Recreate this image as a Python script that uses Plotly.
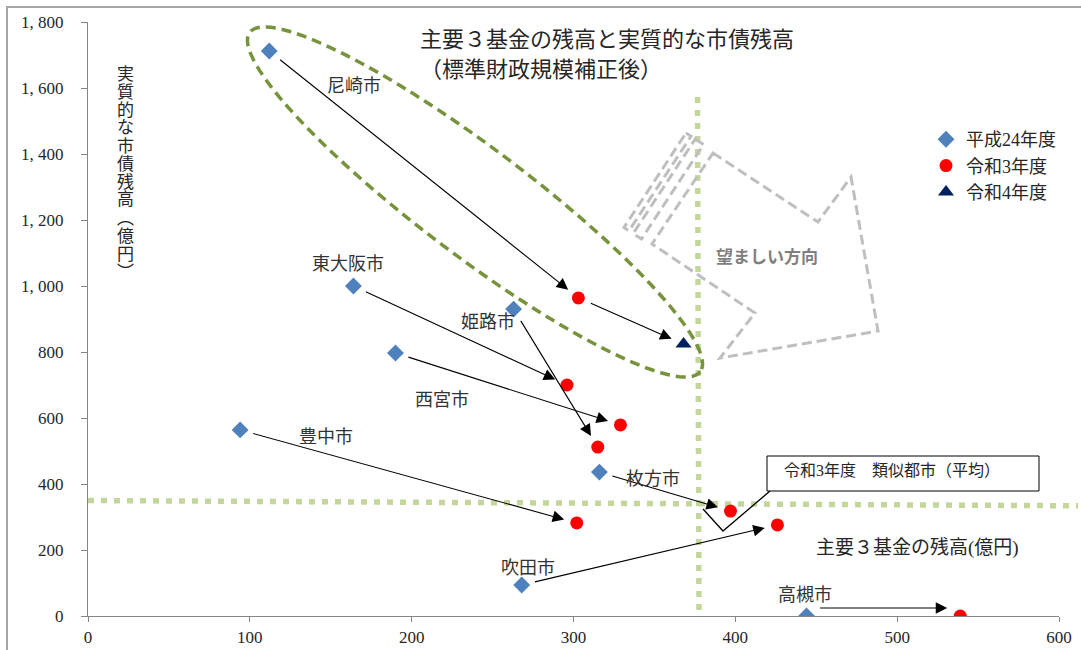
import math
import plotly.graph_objects as go

# ---------------- data ----------------
cities = ["尼崎市", "東大阪市", "西宮市", "姫路市", "豊中市", "枚方市", "吹田市", "高槻市"]
h24_x = [112, 164, 190, 263, 94, 316, 268, 444]
h24_y = [1712, 1000, 797, 930, 564, 436, 94, 0]
r3_x = [303, 296, 329, 315, 302, 397, 426, 539]
r3_y = [964, 700, 579, 512, 282, 318, 276, 0]
r4_city = ["尼崎市"]
r4_x = [368]
r4_y = [824]
avg_x = 378   # 令和3年度 類似都市（平均）
avg_y = 350
x_ticks = [0, 100, 200, 300, 400, 500, 600]
y_ticks = [0, 200, 400, 600, 800, 1000, 1200, 1400, 1600, 1800]
y_ticktext = ["0", "200", "400", "600", "800", "1, 000", "1, 200", "1, 400", "1, 600", "1, 800"]
legend_names = ["平成24年度", "令和3年度", "令和4年度"]

# ---------------- geometry helpers (decorations only) ----------------
W, H = 1081, 650
L, R, T, B = 88, 1059, 22, 616


def px(x):
    return (x - L) / (R - L)


def py(y):
    return (B - y) / (B - T)


def path_from_px(points, close=True):
    s = "M " + " L ".join(f"{px(a):.5f},{py(b):.5f}" for a, b in points)
    return s + (" Z" if close else "")


FONT = "Liberation Serif, Noto Sans CJK JP"
SANS = "Noto Sans CJK JP"

fig = go.Figure()
fig.add_trace(go.Scatter(x=h24_x, y=h24_y, mode="markers", name=legend_names[0],
                         legendgroup="a", text=cities,
                         marker=dict(symbol="diamond", size=13, color="#4f81bd")))
fig.add_trace(go.Scatter(x=r3_x, y=r3_y, mode="markers", name=legend_names[1],
                         legendgroup="b", text=cities,
                         marker=dict(symbol="circle", size=13, color="#ff0000")))
fig.add_trace(go.Scatter(x=r4_x, y=r4_y, mode="markers", name=legend_names[2],
                         legendgroup="c", text=r4_city,
                         marker=dict(symbol="triangle-up", size=14, color="#002060")))

shapes = []
# outer frame
shapes.append(dict(type="path", xref="paper", yref="paper",
                   path=path_from_px([(7, 700), (7, 7), (1100, 7)], close=False),
                   line=dict(color="#a6a6a6", width=2)))
# average reference lines
GREEN = "#c3d69b"
shapes.append(dict(type="line", xref="paper", yref="paper",
                   x0=px(88), y0=py(500.5), x1=px(1078), y1=py(505.8),
                   line=dict(color=GREEN, width=5.5, dash="6px,7px"), layer="below"))
shapes.append(dict(type="line", xref="paper", yref="paper",
                   x0=px(697.5), y0=py(97), x1=px(699), y1=py(616),
                   line=dict(color=GREEN, width=5.5, dash="6px,7px"), layer="below"))

# big gray "desirable direction" arrow
GRAY = "#bfbfbf"
ux, uy = 0.836, 0.549
vx, vy = -0.549, 0.836
ox, oy = 686, 133
TW = 113


def uv(u, v):
    return (ox + u * ux + v * vx, oy + u * uy + v * vy)


for u0, u1 in [(0, 6), (11, 21)]:
    shapes.append(dict(type="path", xref="paper", yref="paper",
                       path=path_from_px([uv(u0, 0), uv(u1, 0), uv(u1, TW), uv(u0, TW)]),
                       line=dict(color=GRAY, width=3, dash="10px,5px")))
body = [(713, 153), (818, 222), (851, 177), (878, 331), (720, 358), (755, 313), (652, 244)]
shapes.append(dict(type="path", xref="paper", yref="paper",
                   path=path_from_px(body),
                   line=dict(color=GRAY, width=3, dash="10px,5px")))

# green dashed ellipse around 尼崎市
cx, cy, a, b = 475, 202, 282, 54
th = math.atan2(339, 450)
ell = []
for i in range(121):
    t = 2 * math.pi * i / 120
    ex = a * math.cos(t)
    ey = b * math.sin(t)
    ell.append((cx + ex * math.cos(th) - ey * math.sin(th),
                cy + ex * math.sin(th) + ey * math.cos(th)))
shapes.append(dict(type="path", xref="paper", yref="paper",
                   path=path_from_px(ell),
                   line=dict(color="#77933c", width=3.5, dash="10px,6px")))

# callout box for similar-cities average
shapes.append(dict(type="rect", xref="paper", yref="paper",
                   x0=px(767), y0=py(491), x1=px(1039), y1=py(456),
                   line=dict(color="black", width=1), fillcolor="white"))
shapes.append(dict(type="path", xref="paper", yref="paper",
                   path=path_from_px([(703, 509), (723, 531), (770, 491)], close=False),
                   line=dict(color="black", width=1.3)))

annotations = []
# change arrows
arrows = [(h24_x[i], h24_y[i], r3_x[i], r3_y[i], cities[i]) for i in range(len(cities))]
arrows.append((r3_x[0], r3_y[0], r4_x[0], r4_y[0], r4_city[0]))
for x0, y0, x1, y1, c in arrows:
    annotations.append(dict(x=x1, y=y1, ax=x0, ay=y0, xref="x", yref="y",
                            axref="x", ayref="y", text="", showarrow=True,
                            arrowhead=2, arrowsize=2.1, arrowwidth=1.1,
                            arrowcolor="black", standoff=13, startstandoff=12,
                            yshift=8 if (y0 == 0 and y1 == 0) else 0))

# city labels
label_pos = {"尼崎市": (354, 86), "東大阪市": (348, 264), "姫路市": (488, 322),
             "西宮市": (442, 400), "豊中市": (326, 437), "枚方市": (653, 479),
             "吹田市": (528, 568), "高槻市": (805, 595)}
for c, (lx, ly) in label_pos.items():
    annotations.append(dict(x=px(lx), y=py(ly), xref="paper", yref="paper",
                            text=c, showarrow=False, xanchor="center", yanchor="middle",
                            font=dict(family=FONT, size=18, color="#333333")))

# titles
annotations.append(dict(x=px(418), y=py(40), xref="paper", yref="paper", showarrow=False,
                        text="主要３基金の残高と実質的な市債残高", xanchor="left", yanchor="middle",
                        font=dict(family=FONT, size=22, color="#262626")))
annotations.append(dict(x=px(418), y=py(70), xref="paper", yref="paper", showarrow=False,
                        text="（標準財政規模補正後）", xanchor="left", yanchor="middle",
                        font=dict(family=FONT, size=22, color="#262626")))
# vertical y title
ytitle = "実質的な市債残高︵億円︶"
for k, ch in enumerate(ytitle):
    annotations.append(dict(x=px(125), y=py(74 + 18 * k), xref="paper", yref="paper",
                            showarrow=False, text=ch, xanchor="center", yanchor="middle",
                            font=dict(family=FONT, size=17, color="#262626")))
# x title
annotations.append(dict(x=px(917), y=py(548), xref="paper", yref="paper", showarrow=False,
                        text="主要３基金の残高(億円)", xanchor="center", yanchor="middle",
                        font=dict(family=FONT, size=19, color="#262626")))
annotations.append(dict(x=px(892), y=py(471), xref="paper", yref="paper", showarrow=False,
                        text="令和3年度　類似都市（平均）", xanchor="center", yanchor="middle",
                        font=dict(family=FONT, size=16, color="#262626")))
annotations.append(dict(x=px(767), y=py(255), xref="paper", yref="paper", showarrow=False,
                        text="<b>望ましい方向</b>", xanchor="center", yanchor="middle",
                        font=dict(family=SANS, size=17, color="#7f7f7f")))

fig.update_layout(
    width=W, height=H,
    margin=dict(l=L, r=W - R, t=T, b=H - B, autoexpand=False),
    paper_bgcolor="white", plot_bgcolor="white",
    shapes=shapes, annotations=annotations,
    showlegend=True,
    legend=dict(x=px(926), y=py(121), xanchor="left", yanchor="top",
                font=dict(family=FONT, size=18, color="#262626"),
                bgcolor="rgba(0,0,0,0)", tracegroupgap=0, itemwidth=30),
    font=dict(family=FONT),
)
fig.update_xaxes(range=[0, 600], tickvals=x_ticks, showgrid=False, zeroline=False,
                 showline=True, linecolor="#868686", linewidth=1.2,
                 ticks="outside", ticklen=5, tickcolor="#868686",
                 tickfont=dict(family=FONT, size=17, color="#262626"))
fig.update_yaxes(range=[0, 1800], tickvals=y_ticks, ticktext=y_ticktext, showgrid=False,
                 zeroline=False, showline=True, linecolor="#868686", linewidth=1.2,
                 ticks="outside", ticklen=6, tickcolor="#868686", ticklabelstandoff=14,
                 tickfont=dict(family=FONT, size=17, color="#262626"))

fig.write_html("out.html")
